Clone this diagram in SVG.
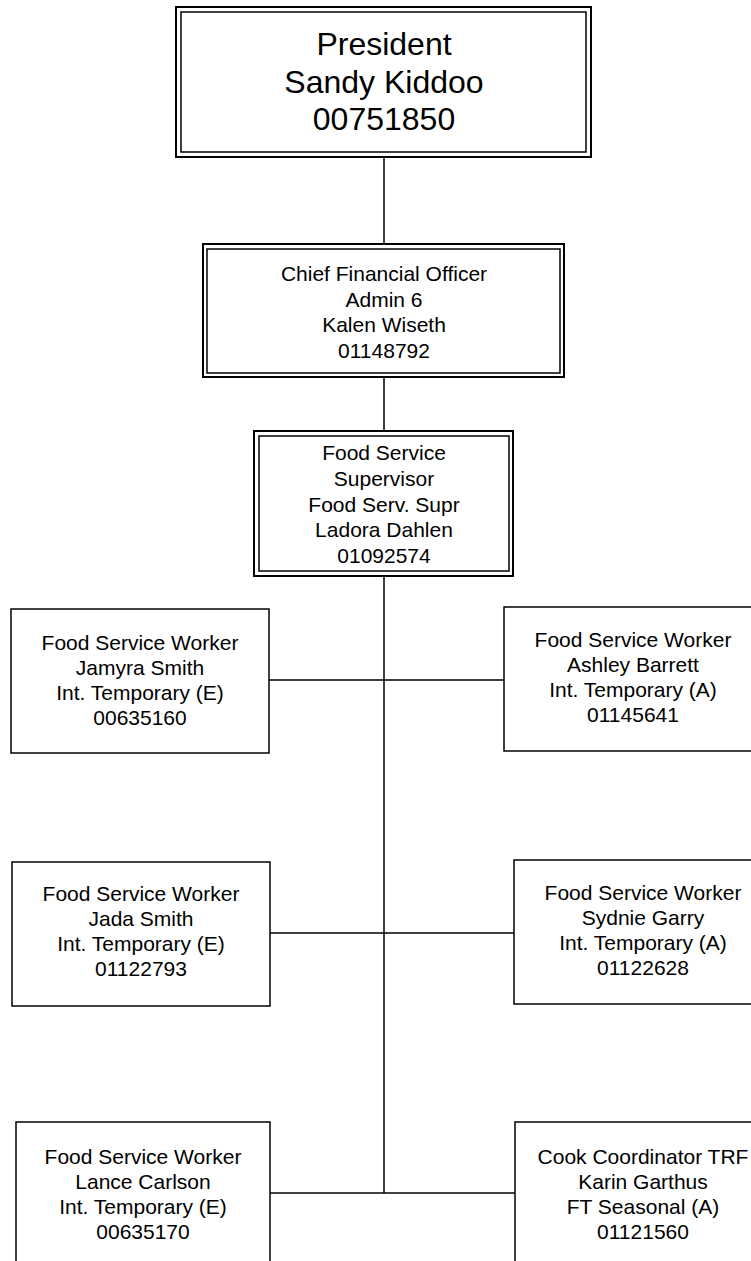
<svg xmlns="http://www.w3.org/2000/svg" width="751" height="1261" viewBox="0 0 751 1261">
<style>
.o{fill:none;stroke:#000;stroke-width:2}
.i{fill:none;stroke:#000;stroke-width:1.5}
.b{fill:#fff;stroke:#000;stroke-width:1.5}
.c{fill:none;stroke:#000;stroke-width:1.5}
text{font-family:"Liberation Sans",Arial,sans-serif;font-size:21px;fill:#000;text-anchor:middle}
.big{font-size:32px}
</style>
<rect width="751" height="1261" fill="#fff"/>
<g id="connectors">
<line class="c" x1="384" y1="157" x2="384" y2="244"/>
<line class="c" x1="384" y1="377" x2="384" y2="431"/>
<line class="c" x1="384" y1="576" x2="384" y2="1193"/>
<line class="c" x1="269" y1="680" x2="504" y2="680"/>
<line class="c" x1="270" y1="933" x2="514" y2="933"/>
<line class="c" x1="270" y1="1193" x2="515" y2="1193"/>
</g>
<g id="president">
<rect class="o" x="176" y="7" width="415" height="150" fill="#fff"/>
<rect class="i" x="181" y="12" width="405" height="140"/>
<text class="big" x="384" y="55">President</text>
<text class="big" x="384" y="93">Sandy Kiddoo</text>
<text class="big" x="384" y="130">00751850</text>
</g>
<g id="cfo">
<rect class="o" x="203" y="244" width="361" height="133" fill="#fff"/>
<rect class="i" x="207" y="249" width="353" height="124"/>
<text x="384" y="281">Chief Financial Officer</text>
<text x="384" y="306.5">Admin 6</text>
<text x="384" y="332">Kalen Wiseth</text>
<text x="384" y="357.5">01148792</text>
</g>
<g id="fss">
<rect class="o" x="254" y="431" width="259" height="145" fill="#fff"/>
<rect class="i" x="259" y="436" width="250" height="135"/>
<text x="384" y="460">Food Service</text>
<text x="384" y="485.8">Supervisor</text>
<text x="384" y="511.6">Food Serv. Supr</text>
<text x="384" y="537.4">Ladora Dahlen</text>
<text x="384" y="563">01092574</text>
</g>
<g id="jamyra">
<rect class="b" x="11" y="609" width="258" height="144"/>
<text x="140" y="650">Food Service Worker</text>
<text x="140" y="675">Jamyra Smith</text>
<text x="140" y="700">Int. Temporary (E)</text>
<text x="140" y="725">00635160</text>
</g>
<g id="ashley">
<rect class="b" x="504" y="607" width="258" height="144"/>
<text x="633" y="647">Food Service Worker</text>
<text x="633" y="672">Ashley Barrett</text>
<text x="633" y="697">Int. Temporary (A)</text>
<text x="633" y="722">01145641</text>
</g>
<g id="jada">
<rect class="b" x="12" y="862" width="258" height="144"/>
<text x="141" y="901">Food Service Worker</text>
<text x="141" y="926">Jada Smith</text>
<text x="141" y="951">Int. Temporary (E)</text>
<text x="141" y="976">01122793</text>
</g>
<g id="sydnie">
<rect class="b" x="514" y="860" width="258" height="144"/>
<text x="643" y="900">Food Service Worker</text>
<text x="643" y="925">Sydnie Garry</text>
<text x="643" y="950">Int. Temporary (A)</text>
<text x="643" y="975">01122628</text>
</g>
<g id="lance">
<rect class="b" x="16" y="1122" width="254" height="144"/>
<text x="143" y="1164">Food Service Worker</text>
<text x="143" y="1189">Lance Carlson</text>
<text x="143" y="1214">Int. Temporary (E)</text>
<text x="143" y="1239">00635170</text>
</g>
<g id="karin">
<rect class="b" x="515" y="1122" width="256" height="144"/>
<text x="643" y="1164">Cook Coordinator TRF</text>
<text x="643" y="1189">Karin Garthus</text>
<text x="643" y="1214">FT Seasonal (A)</text>
<text x="643" y="1239">01121560</text>
</g>
</svg>
